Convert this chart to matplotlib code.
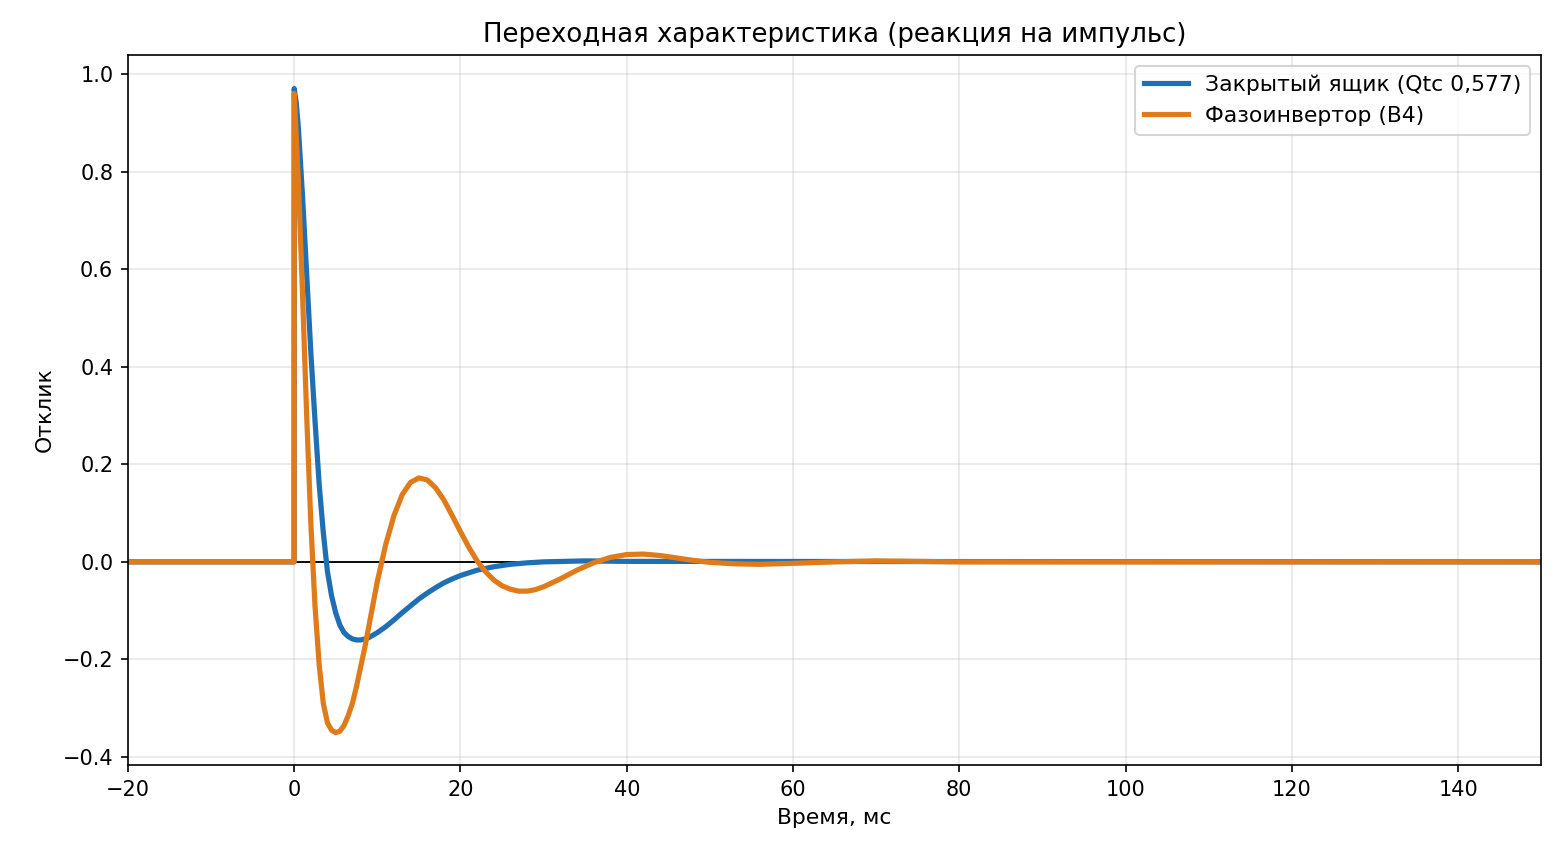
import numpy as np
import matplotlib.pyplot as plt

# closed box (Qtc 0.577)
t_closed = [-20, -0.01, 0, 0.25, 0.5, 0.75, 1, 1.5, 2, 2.5, 3, 3.5, 4, 4.5, 5, 5.5,
            6, 6.5, 7, 7.5, 8, 8.5, 9, 10, 11, 12, 13, 14, 15, 16, 17, 18, 19, 20,
            22, 24, 26, 28, 30, 35, 40, 150]
v_closed = [0, 0, 0.97, 0.94, 0.89, 0.82, 0.75, 0.59, 0.43, 0.29, 0.16, 0.06, -0.02,
            -0.07, -0.105, -0.13, -0.145, -0.153, -0.158, -0.16, -0.16, -0.158,
            -0.155, -0.145, -0.133, -0.119, -0.104, -0.09, -0.076, -0.064, -0.053,
            -0.043, -0.035, -0.028, -0.017, -0.01, -0.005, -0.002, 0.0, 0.002,
            0.001, 0]

# bass reflex (B4)
t_port = [-20, -0.01, 0, 0.5, 1, 1.5, 2, 2.5, 3, 3.5, 4, 4.5, 5, 5.5, 6, 6.5, 7,
          7.5, 8, 8.5, 9, 9.5, 10, 11, 12, 13, 14, 15, 16, 17, 18, 19, 20, 21, 22,
          23, 24, 25, 26, 27, 28, 29, 30, 32, 34, 36, 38, 40, 42, 44, 46, 48, 50,
          53, 56, 60, 65, 70, 75, 80, 150]
v_port = [0, 0, 0.96, 0.78, 0.55, 0.3, 0.08, -0.09, -0.21, -0.29, -0.33, -0.345,
          -0.35, -0.347, -0.335, -0.315, -0.29, -0.255, -0.215, -0.175, -0.13,
          -0.085, -0.04, 0.035, 0.095, 0.138, 0.163, 0.172, 0.168, 0.152, 0.127,
          0.095, 0.062, 0.03, 0.002, -0.02, -0.037, -0.049, -0.056, -0.06, -0.06,
          -0.057, -0.051, -0.035, -0.017, -0.002, 0.009, 0.015, 0.016, 0.013,
          0.008, 0.003, -0.001, -0.004, -0.005, -0.003, 0.0, 0.002, 0.001, 0, 0]

fig, ax = plt.subplots(figsize=(10.4, 5.72), dpi=150)
ax.axhline(0, color="black", lw=0.9)
ax.plot(t_closed, v_closed, lw=2.5, color="#1f6fb4", label="Закрытый ящик (Qtc 0,577)")
ax.plot(t_port, v_port, lw=2.5, color="#e07b1a", label="Фазоинвертор (B4)")
ax.set_xlim(-20, 150)
ax.set_ylim(-0.417, 1.039)
ax.set_title("Переходная характеристика (реакция на импульс)", fontsize=12.5)
ax.set_xlabel("Время, мс", fontsize=10.5)
ax.set_ylabel("Отклик", fontsize=10.5)
ax.grid(alpha=0.3)
ax.legend(loc="upper right", fontsize=10.5)
fig.subplots_adjust(left=0.082, right=0.988, top=0.936, bottom=0.108)
fig.savefig("out.png")
